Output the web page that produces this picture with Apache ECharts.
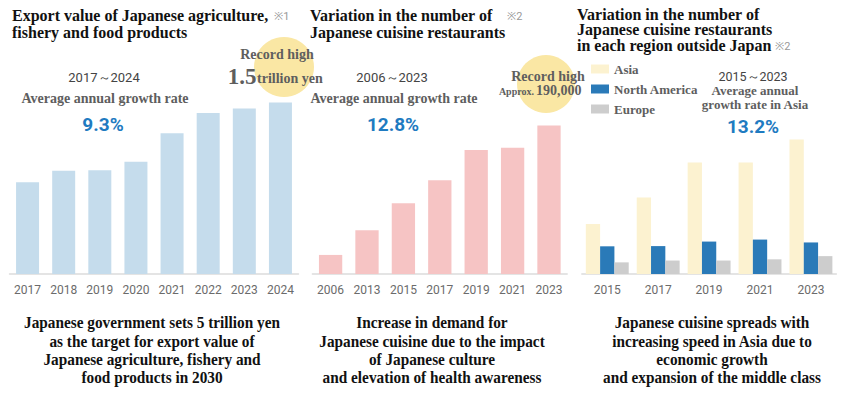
<!DOCTYPE html>
<html>
<head>
<meta charset="utf-8">
<script src="https://cdn.jsdelivr.net/npm/echarts@6/dist/echarts.min.js"></script>
<style>
html,body{margin:0;padding:0;background:#fff;}
#c{width:845px;height:394px;}
</style>
</head>
<body>
<div id="c"></div>
<script>
// ---- data ----
const exportYears = ['2017', '2018', '2019', '2020', '2021', '2022', '2023', '2024'];
const exportValues = [807.1, 906.8, 912.1, 986.0, 1238.2, 1414.8, 1454.7, 1507.1]; // billion yen
const restYears = ['2006', '2013', '2015', '2017', '2019', '2021', '2023'];
const restValues = [24000, 55000, 89000, 118000, 156000, 159000, 187000];
const regionYears = ['2015', '2017', '2019', '2021', '2023'];
const asiaValues = [45300, 69300, 101000, 101000, 122000];
const naValues = [25100, 25300, 29400, 31200, 28600];
const euValues = [10550, 12200, 12200, 13300, 16200];
const regionNames = ['Asia', 'North America', 'Europe'];

const chart = echarts.init(document.getElementById('c'), null, {renderer: 'svg'});

const SERIF = "'Liberation Serif', 'DejaVu Serif', serif";
const SANS = "Roboto, 'Noto Sans', sans-serif";
const BLUE = '#1f7bc1';
const GREY = '#5e5e5e';

function txt(x, y, text, font, fill, align, sx) {
  return {type: 'text', x: x, y: y, z: 10, scaleX: sx || 1,
    style: {text: text, font: font, fill: fill, textAlign: align || 'center', textVerticalAlign: 'middle'}};
}
function circ(cx, cy, r) {
  return {type: 'circle', shape: {cx: cx, cy: cy, r: r}, z: 0, style: {fill: '#fae7a4'}};
}

const catAxis = (idx, data) => ({
  type: 'category', gridIndex: idx, data: data,
  axisLine: {lineStyle: {color: '#dcdcdc', width: 1.5}},
  axisTick: {show: false},
  axisLabel: {color: '#6b6b6b', fontFamily: SANS, fontSize: 12, margin: 10}
});
const valAxis = (idx, max) => ({
  type: 'value', gridIndex: idx, min: 0, max: max,
  show: false, splitLine: {show: false}
});

const boldTitle = 'bold 16px ' + SERIF;
const bottomFont = 'bold 17px ' + SERIF;
const BSX = 0.9;
const note = '11px ' + SANS;

chart.setOption({
  animation: false,
  grid: [
    {left: 9.5, width: 289, top: 92, height: 182},
    {left: 312.4, width: 254.8, top: 115.1, height: 158.9},
    {left: 581.8, width: 254.6, top: 130.6, height: 143.4}
  ],
  xAxis: [catAxis(0, exportYears), catAxis(1, restYears), catAxis(2, regionYears)],
  yAxis: [valAxis(0, 1600), valAxis(1, 200000), valAxis(2, 130000)],
  legend: {
    data: regionNames, orient: 'vertical', left: 591, top: 62,
    itemWidth: 18, itemHeight: 9, itemGap: 6, icon: 'rect', padding: 0,
    textStyle: {fontFamily: SERIF, fontSize: 13, fontWeight: 'bold', color: GREY, lineHeight: 14}
  },
  series: [
    {type: 'bar', xAxisIndex: 0, yAxisIndex: 0, data: exportValues, barWidth: 23,
      itemStyle: {color: '#c5dcec'}, z: 2},
    {type: 'bar', xAxisIndex: 1, yAxisIndex: 1, data: restValues, barWidth: 23.3,
      itemStyle: {color: '#f6c4c4'}, z: 2},
    {type: 'bar', name: regionNames[0], xAxisIndex: 2, yAxisIndex: 2, data: asiaValues, barWidth: 14.3, barGap: '0%',
      itemStyle: {color: '#fcf2d0'}, z: 2},
    {type: 'bar', name: regionNames[1], xAxisIndex: 2, yAxisIndex: 2, data: naValues, barWidth: 14.3, barGap: '0%',
      itemStyle: {color: '#2a7ab8'}, z: 2},
    {type: 'bar', name: regionNames[2], xAxisIndex: 2, yAxisIndex: 2, data: euValues, barWidth: 14.3, barGap: '0%',
      itemStyle: {color: '#cdcdcd'}, z: 2}
  ],
  graphic: {elements: [
    circ(284, 67, 30),
    circ(546, 84, 29),
    // titles
    txt(12, 15, 'Export value of Japanese agriculture,', boldTitle, '#111', 'left'),
    txt(12, 32, 'fishery and food products', boldTitle, '#111', 'left'),
    txt(274, 16, '※1', note, '#999', 'left'),
    txt(310, 15, 'Variation in the number of', boldTitle, '#111', 'left'),
    txt(310, 32, 'Japanese cuisine restaurants', boldTitle, '#111', 'left'),
    txt(507, 16, '※2', note, '#999', 'left'),
    txt(577, 14, 'Variation in the number of', boldTitle, '#111', 'left'),
    txt(577, 29.5, 'Japanese cuisine restaurants', boldTitle, '#111', 'left'),
    txt(577, 45, 'in each region outside Japan', boldTitle, '#111', 'left'),
    txt(775, 46, '※2', note, '#999', 'left'),
    // chart 1 annotations
    txt(104, 77, '2017～2024', '13px ' + SANS, '#444'),
    txt(105, 98, 'Average annual growth rate', 'bold 14px ' + SERIF, GREY),
    txt(103, 124, '9.3%', 'bold 19px ' + SANS, BLUE),
    txt(277, 54, 'Record high', 'bold 14px ' + SERIF, GREY),
    txt(242, 76, '1.5', 'bold 23px ' + SERIF, GREY),
    txt(257, 78, 'trillion yen', 'bold 14px ' + SERIF, GREY, 'left'),
    // chart 2 annotations
    txt(392, 77, '2006～2023', '13px ' + SANS, '#444'),
    txt(394, 98, 'Average annual growth rate', 'bold 14px ' + SERIF, GREY),
    txt(393, 124, '12.8%', 'bold 19px ' + SANS, BLUE),
    txt(548, 76, 'Record high', 'bold 14px ' + SERIF, GREY),
    txt(534, 91, 'Approx.', 'bold 10px ' + SERIF, GREY, 'right'),
    txt(536, 90, '190,000', 'bold 14px ' + SERIF, GREY, 'left'),
    // chart 3 annotations
    txt(753, 76.5, '2015～2023', '12.5px ' + SANS, '#444'),
    txt(755, 90.5, 'Average annual', 'bold 13px ' + SERIF, GREY),
    txt(755, 104, 'growth rate in Asia', 'bold 13px ' + SERIF, GREY),
    txt(753, 126, '13.2%', 'bold 19px ' + SANS, BLUE),
    // bottom captions
    txt(152, 322, 'Japanese government sets 5 trillion yen', bottomFont, '#111', 'center', BSX),
    txt(152, 341, 'as the target for export value of', bottomFont, '#111', 'center', BSX),
    txt(152, 359, 'Japanese agriculture, fishery and', bottomFont, '#111', 'center', BSX),
    txt(152, 377, 'food products in 2030', bottomFont, '#111', 'center', BSX),
    txt(432, 322, 'Increase in demand for', bottomFont, '#111', 'center', BSX),
    txt(432, 341, 'Japanese cuisine due to the impact', bottomFont, '#111', 'center', BSX),
    txt(432, 359, 'of Japanese culture', bottomFont, '#111', 'center', BSX),
    txt(432, 377, 'and elevation of health awareness', bottomFont, '#111', 'center', BSX),
    txt(712, 322, 'Japanese cuisine spreads with', bottomFont, '#111', 'center', BSX),
    txt(712, 341, 'increasing speed in Asia due to', bottomFont, '#111', 'center', BSX),
    txt(712, 359, 'economic growth', bottomFont, '#111', 'center', BSX),
    txt(712, 377, 'and expansion of the middle class', bottomFont, '#111', 'center', BSX)
  ]}
});
</script>
</body>
</html>
